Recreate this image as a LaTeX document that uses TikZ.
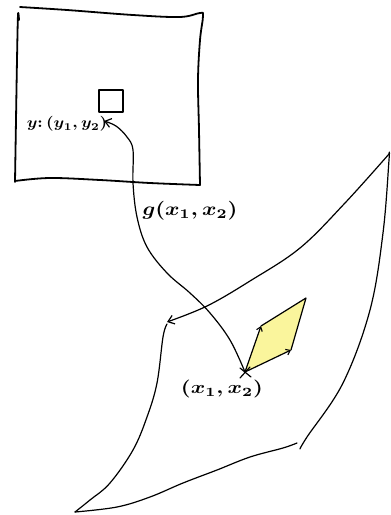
\documentclass[tikz,border=0pt]{standalone}
\usetikzlibrary{arrows.meta}
\definecolor{paleyellow}{HTML}{FAF59C}
\tikzset{
  thick stroke/.style={line width=1.8pt, line cap=round, line join=round},
  thin stroke/.style={line width=1.2pt, line cap=round, line join=round},
  barb/.style={-{Straight Barb[length=6pt,width=9pt,line width=1.2pt]}},
  smallbarb/.style={-{Straight Barb[length=4pt,width=6pt,line width=1.1pt]}},
  lbl/.style={inner sep=0pt, font=\boldmath},
}
\begin{document}
\begin{tikzpicture}[x=1pt,y=-1pt]
\useasboundingbox (0,0) rectangle (391,515);
% upper square (codomain)
\draw[thick stroke] plot[smooth,tension=0.6] coordinates {(20,7) (67,10) (133,15) (180,17) (200,13) (203,16) (200,40) (198,80) (199,130) (200,185)};
\draw[thick stroke] plot[smooth,tension=0.6] coordinates {(19,20) (18,15) (17,60) (16,120) (15,182)};
\draw[thick stroke] plot[smooth,tension=0.6] coordinates {(15,181) (50,178) (100,180) (150,183) (200,185)};
\draw[thin stroke] (99,90) rectangle (123,112);
\node[lbl] (ylab) at (67,124) {\scalebox{1.7}[1.5]{$y\colon (y_1,y_2)$}};

% lower surface (domain)
\coordinate (tr) at (389,154);
\coordinate (tl) at (167,322);
\draw[thin stroke, barb] plot[smooth,tension=0.6] coordinates {(tr) (345,203) (300,248) (250,281) (207,306) (tl)};
\draw[thin stroke] plot[smooth,tension=0.6] coordinates {(tr) (389,160) (383,233) (370,310) (343,383) (307,437) (300,449)};
\draw[thin stroke] plot[smooth,tension=0.6] coordinates {(167,324) (163,337) (157,383) (147,417) (133,450) (110,483) (90,500) (75,512)};
\draw[thin stroke] plot[smooth,tension=0.6] coordinates {(75,512) (117,507) (150,497) (183,483) (217,470) (250,457) (283,448) (297,443)};

% point and tangent parallelogram
\coordinate (p) at (245,372);
\coordinate (vl) at (261,326);
\coordinate (vt) at (306,298);
\coordinate (vr) at (291,350);
\fill[paleyellow] (p) -- (vl) -- (vt) -- (vr) -- cycle;
\draw[thin stroke] (vl) -- (vt) -- (vr);
\draw[thin stroke, smallbarb] (p) -- (vl);
\draw[thin stroke, smallbarb] (p) -- (vr);
\draw[thin stroke] (240,368) -- (251,377) (250,367) -- (240,378);

% map g
\coordinate (ytip) at (104,121);
\draw[thin stroke, barb] plot[smooth,tension=0.6] coordinates {(p) (230,340) (210,313) (190,293) (167,273) (147,247) (137,217) (133,183) (133,150) (127,137) (116,126) (ytip)};
\node[lbl] (glab) at (190,211) {\scalebox{2.2}[1.9]{$g(x_1,x_2)$}};
\node[lbl] (xlab) at (222,389) {\scalebox{2.2}[1.8]{$(x_1,x_2)$}};
\end{tikzpicture}
\end{document}
